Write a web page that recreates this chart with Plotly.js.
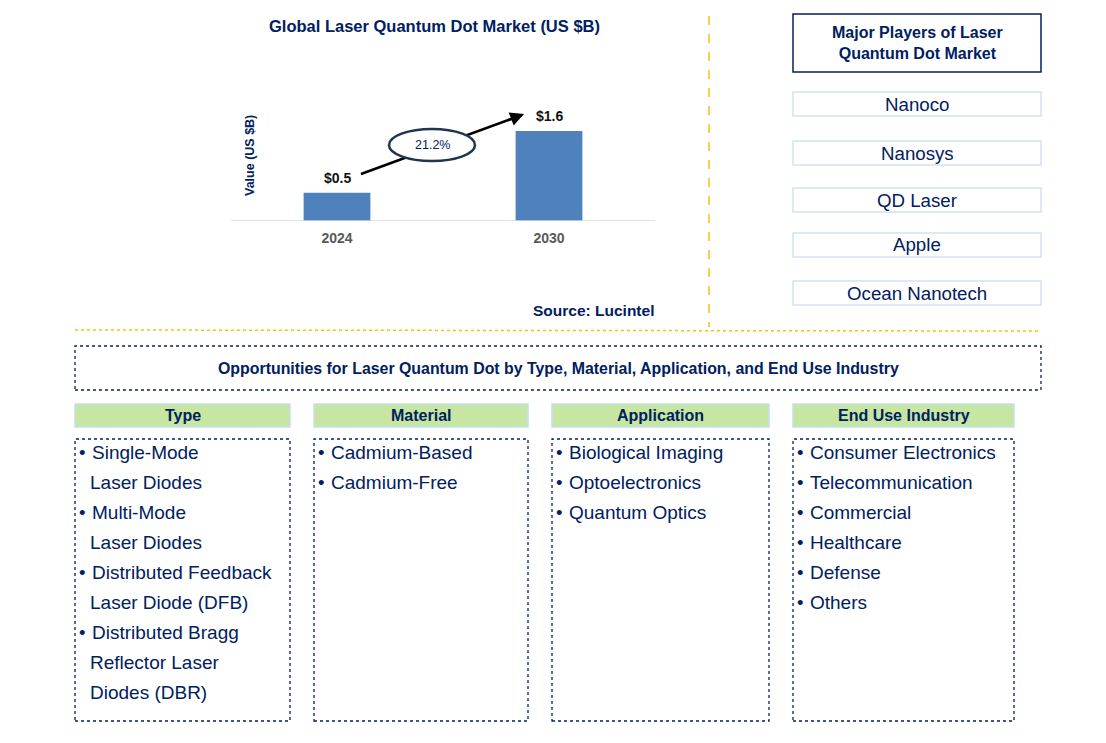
<!DOCTYPE html>
<html>
<head>
<meta charset="utf-8">
<script src="https://cdn.plot.ly/plotly-3.0.1.min.js"></script>
<style>html,body{margin:0;padding:0;background:#fff;}#chart{width:1106px;height:743px;}</style>
</head>
<body>
<div id="chart"></div>
<script>
// ---- data ----
var years = ["2024", "2030"];
var marketValues = [0.5, 1.6];
var valueLabels = ["$0.5", "$1.6"];
var cagrLabel = "21.2%";
var chartTitle = "Global Laser Quantum Dot Market (US $B)";
var yAxisTitle = "Value (US $B)";
var sourceText = "Source: Lucintel";
var playersTitle = "Major Players of Laser<br>Quantum Dot Market";
var players = ["Nanoco", "Nanosys", "QD Laser", "Apple", "Ocean Nanotech"];
var opportunitiesTitle = "Opportunities for Laser Quantum Dot by Type, Material, Application, and End Use Industry";
var segmentHeaders = ["Type", "Material", "Application", "End Use Industry"];
var typeItems = [["Single-Mode", "Laser Diodes"], ["Multi-Mode", "Laser Diodes"], ["Distributed Feedback", "Laser Diode (DFB)"], ["Distributed Bragg", "Reflector Laser", "Diodes (DBR)"]];
var materialItems = [["Cadmium-Based"], ["Cadmium-Free"]];
var applicationItems = [["Biological Imaging"], ["Optoelectronics"], ["Quantum Optics"]];
var endUseItems = [["Consumer Electronics"], ["Telecommunication"], ["Commercial"], ["Healthcare"], ["Defense"], ["Others"]];
var segmentItems = [typeItems, materialItems, applicationItems, endUseItems];

// ---- layout helpers ----
var W = 1106, H = 743;
function X(p) { return p / W; }
function Y(p) { return 1 - p / H; }
var NAVY = "#002060";
var FONT = "Liberation Sans, Arial, sans-serif";

var shapes = [];
var annotations = [];

function rect(x0, y0, x1, y1, color, width, dash, fill) {
  shapes.push({type: "rect", xref: "paper", yref: "paper", x0: X(x0), x1: X(x1), y0: Y(y1), y1: Y(y0),
    line: {color: color, width: width, dash: dash || "solid"}, fillcolor: fill || "rgba(0,0,0,0)", layer: "above"});
}
function line(x0, y0, x1, y1, color, width, dash) {
  shapes.push({type: "line", xref: "paper", yref: "paper", x0: X(x0), x1: X(x1), y0: Y(y0), y1: Y(y1),
    line: {color: color, width: width, dash: dash || "solid"}, layer: "above"});
}
function text(x, y, t, size, bold, color, xanchor) {
  annotations.push({xref: "paper", yref: "paper", x: X(x), y: Y(y), text: bold ? "<b>" + t + "</b>" : t,
    showarrow: false, xanchor: xanchor || "center", yanchor: "middle",
    font: {family: FONT, size: size, color: color || NAVY}});
}

// chart title
text(434, 26, chartTitle, 16.5, true, NAVY);
// y axis title (rotated)
annotations.push({xref: "paper", yref: "paper", x: X(250), y: Y(156), text: "<b>" + yAxisTitle + "</b>", textangle: -90,
  showarrow: false, xanchor: "center", yanchor: "middle", font: {family: FONT, size: 12.5, color: NAVY}});
// value labels over bars (x given as category index)
for (var i = 0; i < years.length; i++) {
  annotations.push({xref: "x", yref: "y", x: i, y: marketValues[i], text: "<b>" + valueLabels[i] + "</b>",
    showarrow: false, xanchor: "center", yanchor: "bottom", yshift: 5, font: {family: FONT, size: 14, color: "#111111"}});
}
// CAGR arrow: line, ellipse on top, arrow head
line(361, 174, 522, 115, "#000000", 2.5);
shapes.push({type: "circle", xref: "paper", yref: "paper", x0: X(389), x1: X(475), y0: Y(161), y1: Y(129),
  line: {color: "#1f3550", width: 2.5}, fillcolor: "#ffffff", layer: "above"});
annotations.push({xref: "paper", yref: "paper", x: X(524), y: Y(114), ax: -18, ay: 7, text: "", showarrow: true,
  arrowhead: 2, arrowsize: 1.1, arrowwidth: 2.5, arrowcolor: "#000000", standoff: 0});
text(432, 145, cagrLabel, 12.5, false, NAVY);
// source
text(656, 310, sourceText, 15.5, true, NAVY, "right");

// dividers
line(709, 16, 709, 327, "#FFC000", 1.5, "dash");
line(75, 330, 1041, 331, "#FFC000", 1.5, "dot");

// major players
rect(793, 14, 1041, 72, NAVY, 1.5);
text(917, 43, playersTitle, 16, true, NAVY);
var playerTops = [92, 141, 188, 233, 281];
for (var p = 0; p < players.length; p++) {
  var t0 = playerTops[p];
  rect(793, t0, 1041, t0 + 24, "#cfe4f3", 1.5);
  text(917, t0 + 12, players[p], 18.7, false, NAVY);
}

// opportunities box
rect(75, 346, 1041, 390, NAVY, 1.3, "dot");
text(558, 368, opportunitiesTitle, 15.9, true, NAVY);

// segment columns
var colX = [[75, 290], [314, 528], [552, 769], [793, 1014]];
for (var c = 0; c < segmentHeaders.length; c++) {
  var x0 = colX[c][0], x1 = colX[c][1];
  rect(x0, 404, x1, 427, "#c5dff0", 1.5, "solid", "#c6e6a1");
  text((x0 + x1) / 2, 415.5, segmentHeaders[c], 16, true, NAVY);
  rect(x0, 439, x1, 721, NAVY, 1.3, "dot");
  var yy = 452;
  var items = segmentItems[c];
  for (var k = 0; k < items.length; k++) {
    for (var l = 0; l < items[k].length; l++) {
      if (l === 0) text(x0 + 7, yy, "•", 18.5, false, NAVY, "center");
      text(x0 + (l === 0 ? 15 : 13), yy, items[k][l], 19, false, NAVY, "left");
      yy += 30;
    }
  }
}

var trace = {
  type: "bar", x: years, y: marketValues, marker: {color: "#4f81bd"}, hoverinfo: "none"
};

var layout = {
  width: W, height: H, autosize: false,
  margin: {l: 0, r: 0, t: 0, b: 0},
  paper_bgcolor: "#ffffff", plot_bgcolor: "#ffffff",
  showlegend: false,
  bargap: 0.685,
  xaxis: {domain: [X(231), X(655)], type: "category", range: [-0.5, 1.5], autorange: false,
    showgrid: false, zeroline: false,
    showline: false, ticks: "outside", ticklen: 4, tickcolor: "rgba(0,0,0,0)",
    tickfont: {family: FONT, size: 14, color: "#595959", weight: "bold"},
    tickangle: 0, fixedrange: true, anchor: "y"},
  yaxis: {domain: [Y(221), Y(101)], range: [0, 2.133], autorange: false, showgrid: false, zeroline: false,
    showline: false, showticklabels: false, ticks: "", fixedrange: true},
  shapes: shapes.concat([{type: "line", xref: "x domain", yref: "y", x0: 0, x1: 1, y0: 0, y1: 0,
    line: {color: "#d9d9d9", width: 1.5}, layer: "above"}]),
  annotations: annotations
};

Plotly.newPlot("chart", [trace], layout, {staticPlot: true, displayModeBar: false});
</script>
</body>
</html>
